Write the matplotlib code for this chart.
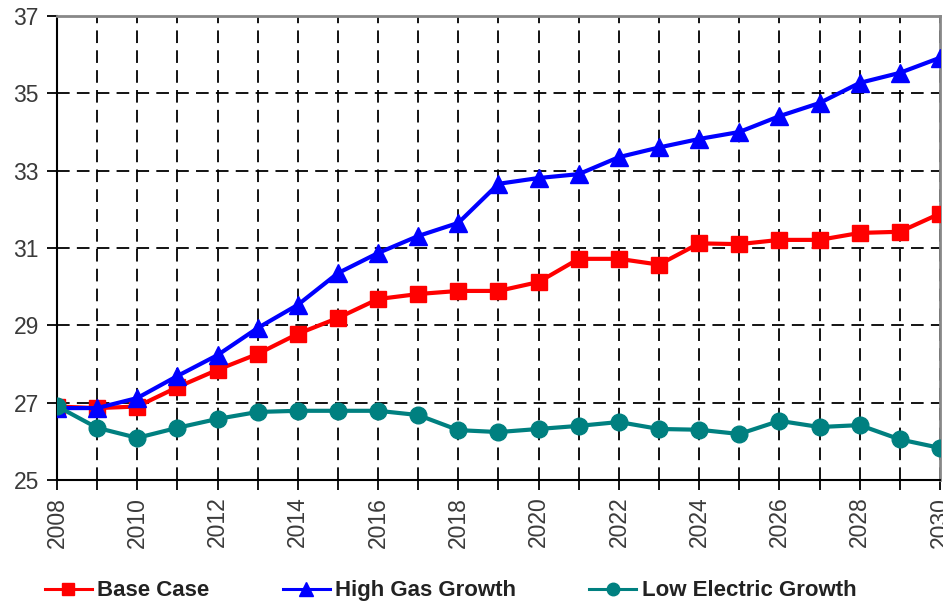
import matplotlib
matplotlib.use("Agg")
import matplotlib.pyplot as plt

plt.rcParams['font.family'] = ['Liberation Sans', 'DejaVu Sans']

years = list(range(2008, 2031))

base_case = [26.90, 26.86, 26.90, 27.40, 27.85, 28.26, 28.78, 29.19, 29.68, 29.81,
             29.89, 29.89, 30.12, 30.72, 30.72, 30.57, 31.12, 31.10, 31.21, 31.21,
             31.39, 31.42, 31.89]
high_gas = [26.86, 26.86, 27.12, 27.69, 28.23, 28.93, 29.53, 30.35, 30.87, 31.31,
            31.65, 32.66, 32.81, 32.91, 33.35, 33.60, 33.82, 34.00, 34.41, 34.75,
            35.27, 35.53, 35.92]
low_electric = [26.91, 26.35, 26.09, 26.35, 26.58, 26.76, 26.79, 26.79, 26.79, 26.68,
                26.29, 26.24, 26.32, 26.40, 26.50, 26.32, 26.30, 26.19, 26.53, 26.37,
                26.42, 26.05, 25.83]

series_names = ['Base Case', 'High Gas Growth', 'Low Electric Growth']

fig = plt.figure(figsize=(9.43, 6.06), dpi=100)
ax = fig.add_axes([0.0604, 0.2079, 0.9364, 0.7657])

ax.plot(years, base_case, color='#ff0000', lw=3, marker='s', ms=11,
        label=series_names[0], zorder=3)
ax.plot(years, high_gas, color='#0000ff', lw=3, marker='^', ms=12.5,
        label=series_names[1], zorder=3)
ax.plot(years, low_electric, color='#008080', lw=3, marker='o', ms=12,
        label=series_names[2], zorder=3)

ax.set_xlim(2008, 2030)
ax.set_ylim(25, 37)
ax.set_xticks(years)
ax.set_xticklabels([str(y) if y % 2 == 0 else '' for y in years], rotation=90)
ax.set_yticks(range(25, 38, 2))

ax.grid(True, color='black', linestyle=(0, (7, 4)), linewidth=1.3)
ax.tick_params(axis='both', direction='out', length=7, width=1.3,
               labelsize=16.5, labelcolor='#3a3a3a')
ax.tick_params(axis='x', pad=5)
ax.tick_params(axis='y', pad=6)

for side in ['left', 'bottom']:
    ax.spines[side].set_color('black')
    ax.spines[side].set_linewidth(1.5)
for side in ['top', 'right']:
    ax.spines[side].set_color('#888888')
    ax.spines[side].set_linewidth(2)

handles, labels = ax.get_legend_handles_labels()
leg = fig.legend(handles, labels, loc='center left', bbox_to_anchor=(0.036, 0.025),
                 ncol=3, frameon=False, handlelength=2.1, handletextpad=0.25,
                 columnspacing=3.3, markerscale=0.75, borderpad=0,
                 prop={'size': 16, 'weight': 'bold'})
for line in leg.get_lines():
    line.set_linewidth(2.2)
for txt in leg.get_texts():
    txt.set_color('#222222')

fig.savefig('out.png', dpi=100)
